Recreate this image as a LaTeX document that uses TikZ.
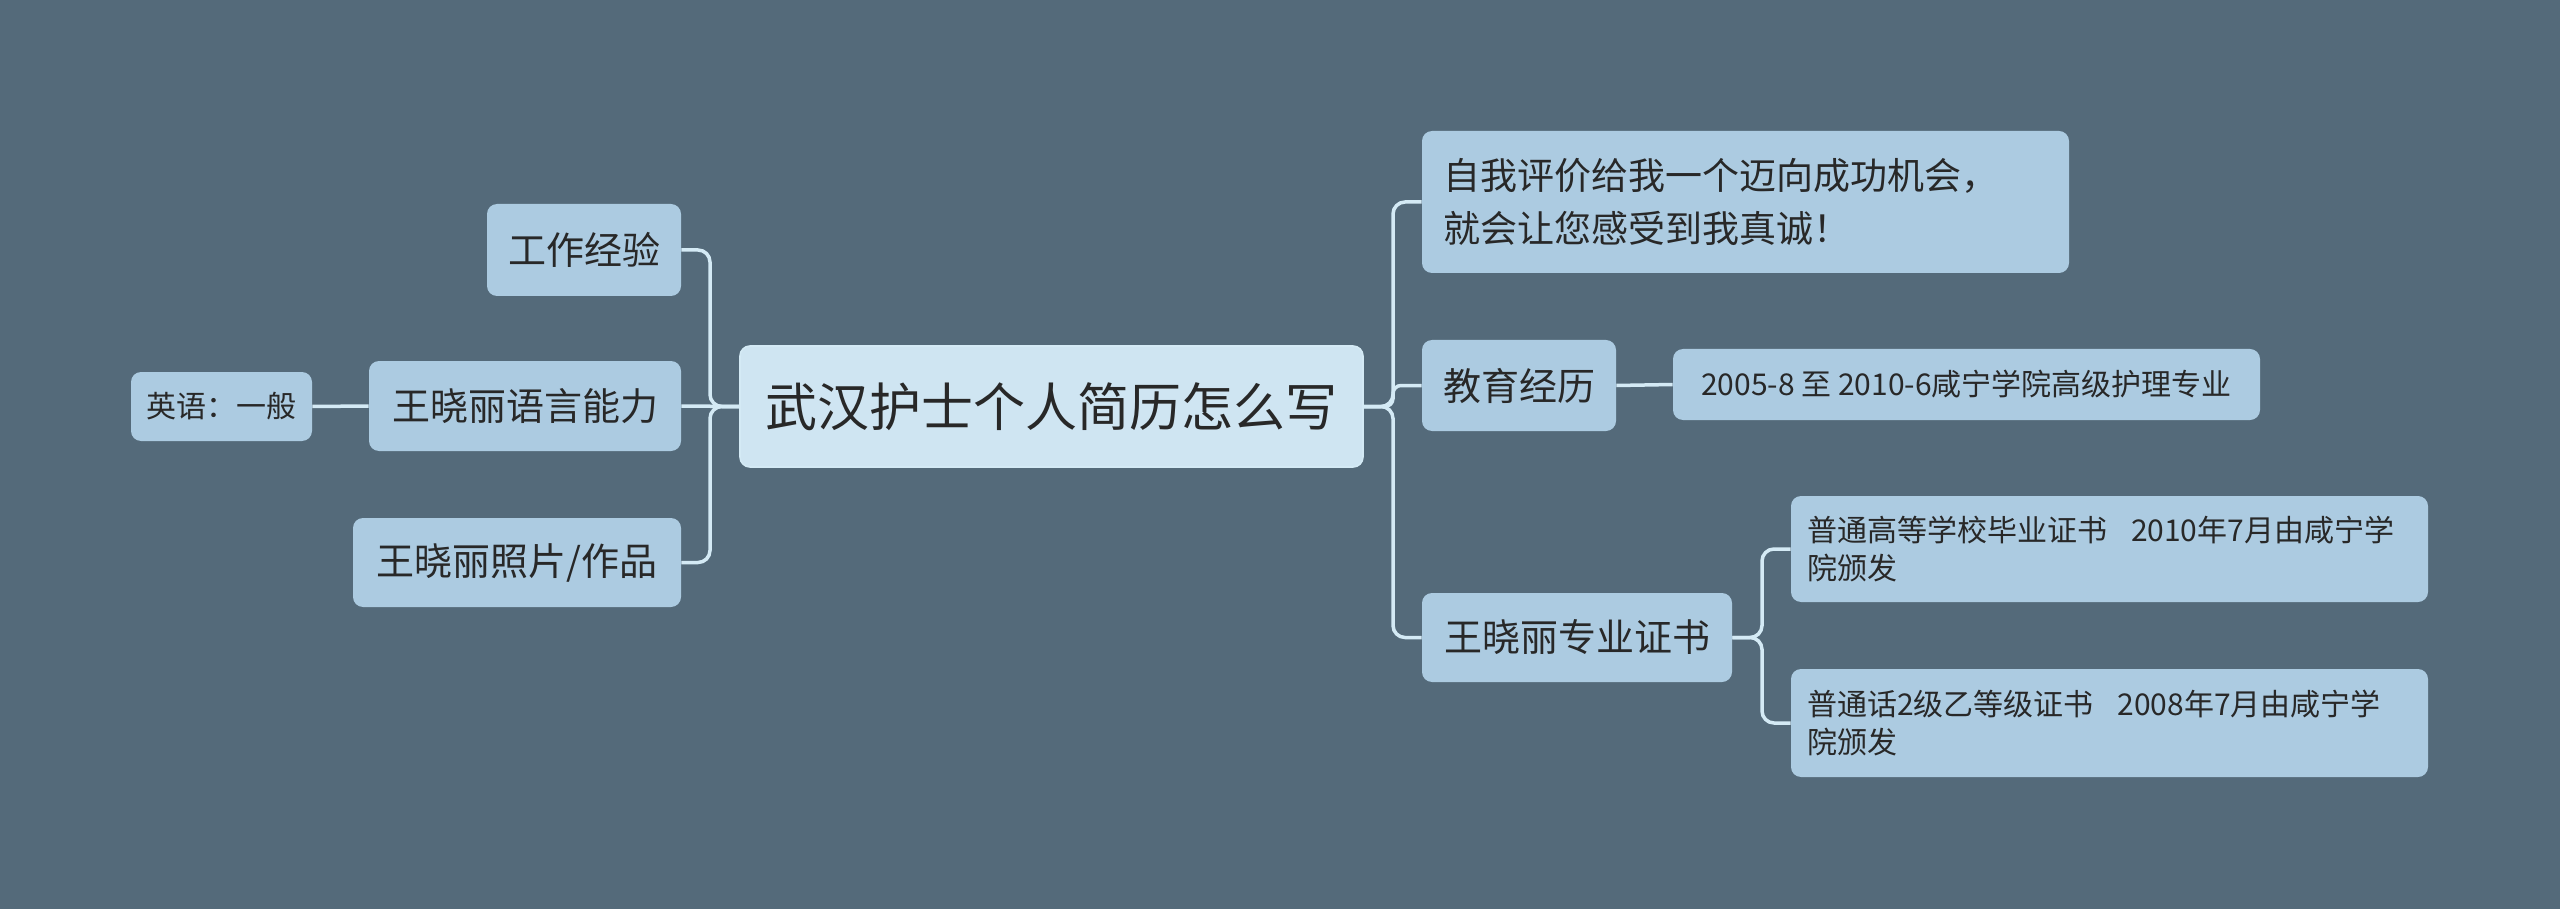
\documentclass[tikz,border=0pt]{standalone}
\usepackage{fontspec}
\newfontfamily\cjk{Noto Sans CJK SC}
\definecolor{bg}{RGB}{84,106,122}
\definecolor{nodefill}{RGB}{172,203,225}
\definecolor{cfill}{RGB}{207,229,242}
\definecolor{linec}{RGB}{212,234,245}
\definecolor{txt}{RGB}{40,40,40}
\tikzset{
  box/.style={rounded corners=5pt, fill=nodefill, text=txt, inner sep=0pt, align=center, anchor=center},
  big/.style={font=\cjk\fontsize{19pt}{24pt}\selectfont},
  small/.style={font=\cjk\fontsize{15pt}{18.75pt}\selectfont},
  conn/.style={draw=linec, line width=1.75pt, rounded corners=6pt}
}
\begin{document}
\begin{tikzpicture}[x=0.5pt,y=-0.5pt]
\fill[bg] (0,0) rectangle (2560,909);
\useasboundingbox (0,0) rectangle (2560,909);

\node[box, fill=cfill, draw=linec, line width=0.8pt, minimum width=311.5pt, minimum height=60.5pt,
      font=\cjk\fontsize{26pt}{30pt}\selectfont] (c) at (1051.5,406.5) {武汉护士个人简历怎么写};

\node[box, minimum width=323.5pt, minimum height=71pt, text width=302.5pt, align=left,
      font=\cjk\fontsize{18.5pt}{26.5pt}\selectfont] (r1) at (1745.5,202)
      {自我评价给我一个迈向成功机会，\\就会让您感受到我真诚！};
\node[box, big, minimum width=97pt, minimum height=45.5pt] (r2) at (1519,385.5) {教育经历};
\node[box, small, minimum width=293.5pt, minimum height=35.5pt] (r2a) at (1966.5,384.5) {2005-8 至 2010-6咸宁学院高级护理专业};
\node[box, big, minimum width=155pt, minimum height=44.5pt] (r3) at (1577,637.5) {王晓丽专业证书};
\node[box, small, minimum width=318.5pt, minimum height=53pt, text width=302.5pt, align=left] (r3a) at (2109.5,549)
      {普通高等学校毕业证书\hspace{12pt}2010年7月由咸宁学\\院颁发};
\node[box, small, minimum width=318.5pt, minimum height=54pt, text width=302.5pt, align=left] (r3b) at (2109.5,723)
      {普通话2级乙等级证书\hspace{12pt}2008年7月由咸宁学\\院颁发};

\node[box, big, minimum width=97pt, minimum height=46pt] (l1) at (584,250) {工作经验};
\node[box, big, minimum width=156pt, minimum height=45pt] (l2) at (525,406) {王晓丽语言能力};
\node[box, small, minimum width=90.5pt, minimum height=34.5pt] (l2a) at (221.5,406.5) {英语：一般};
\node[box, big, minimum width=164pt, minimum height=44.5pt] (l3) at (517,562.5) {王晓丽照片/作品};

\coordinate (tl) at (710,406.5);
\coordinate (tr) at (1393,406.5);
\coordinate (t3) at (1762,637.5);

\draw[conn] (c.west) -- (tl) |- (l1.east);
\draw[conn] (c.west) -- (l2.east);
\draw[conn] (c.west) -- (tl) |- (l3.east);
\draw[conn] (l2.west) -- (l2a.east);

\draw[conn] (c.east) -- (tr) |- (r1.west);
\draw[conn, rounded corners=4pt] (c.east) -- (tr) |- (r2.west);
\draw[conn] (c.east) -- (tr) |- (r3.west);
\draw[conn] (r2.east) -- (r2a.west);
\draw[conn] (r3.east) -- (t3) |- (r3a.west);
\draw[conn] (r3.east) -- (t3) |- (r3b.west);
\end{tikzpicture}
\end{document}
